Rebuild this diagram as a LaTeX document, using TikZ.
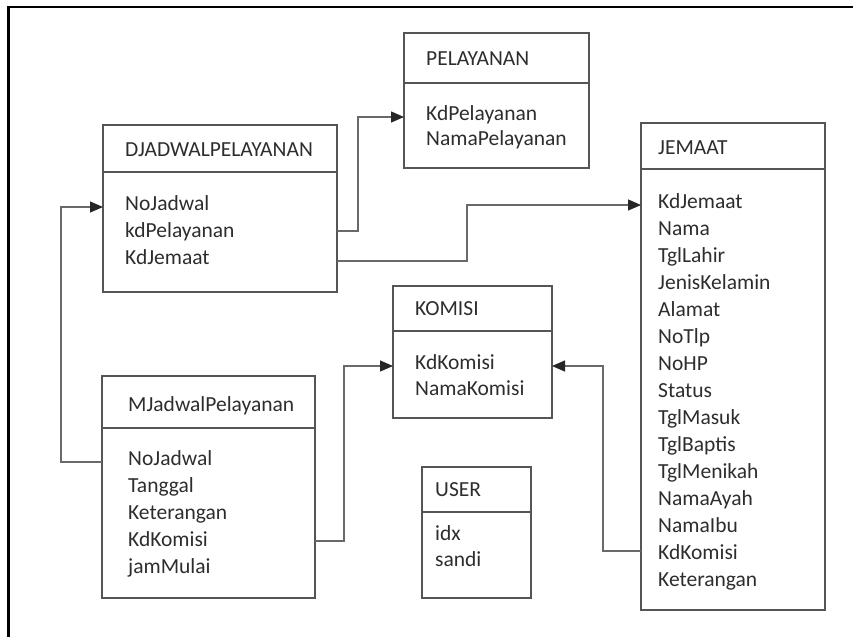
\documentclass[tikz,border=0pt]{standalone}
\usepackage{fontspec}
\setmainfont{Carlito}
\usepackage{tikz}
\usetikzlibrary{arrows.meta,positioning}
\definecolor{boxline}{RGB}{85,85,85}
\definecolor{linkline}{RGB}{105,105,105}
\definecolor{txt}{RGB}{45,45,45}
\tikzset{
	tbl/.style={draw=boxline,line width=1.4pt,rectangle,anchor=north west,inner sep=0pt,outer sep=0pt},
	ttl/.style={anchor=west,inner sep=0pt,text=txt,text height=0.64em,text depth=0pt},
	fld/.style={anchor=west,inner sep=0pt,text=txt,text height=0.64em,text depth=0pt},
	link/.style={draw=linkline,line width=1.3pt,-{Triangle[length=13pt,width=11pt,color=black!85]}},
	every node/.style={font=\fontsize{21.5}{26}\selectfont}
}

\begin{document}
\begin{tikzpicture}[x=1pt,y=-1pt]
			\useasboundingbox (0,0) rectangle (853,637);
			\draw[line width=2.5pt] (8.5,637) -- (8.5,7) -- (853,7);
			
			% PELAYANAN
			\node[tbl,minimum width=185pt,minimum height=50pt] (pelh) at (404,33) {};
			\node[tbl,minimum width=185pt,minimum height=85pt,below=0pt of pelh.south west,anchor=north west] (pelb) {};
			\node[ttl] (pelt) at (426,62) {PELAYANAN};
			\foreach \f [count=\i] in {KdPelayanan,NamaPelayanan}
				\node[fld] (pel\i) at (426,{117+25*(\i-1)}) {\f};
			
			% DJADWALPELAYANAN
			\node[tbl,minimum width=234pt,minimum height=47pt] (djh) at (103,125) {};
			\node[tbl,minimum width=234pt,minimum height=120pt,below=0pt of djh.south west,anchor=north west] (djb) {};
			\node[ttl] (djt) at (125,153) {DJADWALPELAYANAN};
			\foreach \f [count=\i] in {NoJadwal,kdPelayanan,KdJemaat}
				\node[fld] (dj\i) at (125,{207+27*(\i-1)}) {\f};
			
			% JEMAAT
			\node[tbl,minimum width=184pt,minimum height=46pt] (jemh) at (641,123) {};
			\node[tbl,minimum width=184pt,minimum height=441pt,below=0pt of jemh.south west,anchor=north west] (jemb) {};
			\node[ttl] (jemt) at (658,151) {JEMAAT};
			\foreach \f [count=\i] in {KdJemaat,Nama,TglLahir,JenisKelamin,Alamat,NoTlp,NoHP,Status,TglMasuk,TglBaptis,TglMenikah,NamaAyah,NamaIbu,KdKomisi,Keterangan}
				\node[fld] (jem\i) at (658,{205+27*(\i-1)}) {\f};
			
			% KOMISI
			\node[tbl,minimum width=159pt,minimum height=45pt] (komh) at (393,286) {};
			\node[tbl,minimum width=159pt,minimum height=87pt,below=0pt of komh.south west,anchor=north west] (komb) {};
			\node[ttl] (komt) at (415,312) {KOMISI};
			\foreach \f [count=\i] in {KdKomisi,NamaKomisi}
				\node[fld] (kom\i) at (415,{366+26*(\i-1)}) {\f};
			
			% USER
			\node[tbl,minimum width=109pt,minimum height=45pt] (usrh) at (422,467) {};
			\node[tbl,minimum width=109pt,minimum height=86pt,below=0pt of usrh.south west,anchor=north west] (usrb) {};
			\node[ttl] (usrt) at (435,493) {USER};
			\foreach \f [count=\i] in {idx,sandi}
				\node[fld] (usr\i) at (435,{537+26*(\i-1)}) {\f};
			
			% MJadwalPelayanan
			\node[tbl,minimum width=213pt,minimum height=52pt] (mjh) at (102,376) {};
			\node[tbl,minimum width=213pt,minimum height=170pt,below=0pt of mjh.south west,anchor=north west] (mjb) {};
			\node[ttl] (mjt) at (128,408) {MJadwalPelayanan};
			\foreach \f [count=\i] in {NoJadwal,Tanggal,Keterangan,KdKomisi,jamMulai}
				\node[fld] (mj\i) at (128,{462+27*(\i-1)}) {\f};
			
			\draw[link] (mj1 -| mjb.west) -- ++(-41,0) |- (dj1 -| djb.west);
			\draw[link] ([yshift=3pt]dj2 -| djb.east) -- ++(21,0) |- (pel1 -| pelb.west);
			\draw[link] (dj3 -| djb.east) -- ++(130,0) |- (jem1 -| jemb.west);
			\draw[link] ([yshift=2pt]mj4 -| mjb.east) -- ++(29,0) |- (kom1 -| komb.west);
			\draw[link] ([yshift=5pt]jem14 -| jemb.west) -- ++(-38,0) |- (kom1 -| komb.east);
		\end{tikzpicture}
\end{document}
